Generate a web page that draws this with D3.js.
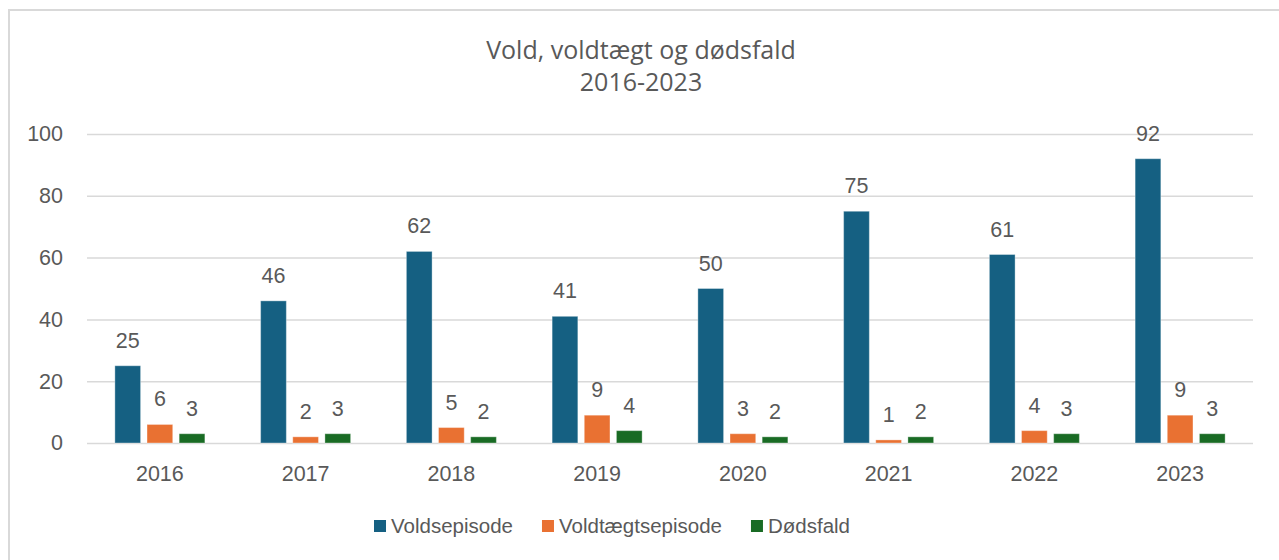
<!DOCTYPE html>
<html>
<head>
<meta charset="utf-8">
<script src="https://cdn.jsdelivr.net/npm/d3@7"></script>
<style>
  html, body { margin: 0; padding: 0; background: #fff; overflow: hidden; }
  #chart { width: 1279px; height: 560px; }
  text { font-family: "Liberation Sans", Arial, sans-serif; fill: #595959; }
</style>
</head>
<body>
<div id="chart"></div>
<script>
const years = ["2016", "2017", "2018", "2019", "2020", "2021", "2022", "2023"];
const seriesNames = ["Voldsepisode", "Voldtægtsepisode", "Dødsfald"];
const voldsepisode = [25, 46, 62, 41, 50, 75, 61, 92];
const voldtaegtsepisode = [6, 2, 5, 9, 3, 1, 4, 9];
const doedsfald = [3, 3, 2, 4, 2, 2, 3, 3];
const yTicks = [0, 20, 40, 60, 80, 100];
const titleLines = ["Vold, voldtægt og dødsfald", "2016-2023"];

const colors = ["#156082", "#E97132", "#196B24"];

document.addEventListener("DOMContentLoaded", function() {
    const width = 1279, height = 560;
    const plot = {left: 87, right: 1253, top: 134, bottom: 443};

    const svg = d3.select("#chart").append("svg")
        .attr("width", width)
        .attr("height", height);

    // chart area border (bottom is cut off in the original)
    svg.append("rect")
        .attr("x", 9).attr("y", 10)
        .attr("width", width + 10).attr("height", height + 10)
        .attr("fill", "none")
        .attr("stroke", "#d9d9d9")
        .attr("stroke-width", 2);

    // title
    svg.append("g").selectAll("text")
        .data(titleLines)
        .join("text")
        .attr("x", 641)
        .attr("y", (d, i) => 59 + i * 32)
        .attr("text-anchor", "middle")
        .style("font-family", "'Open Sans', sans-serif")
        .style("font-size", "25px")
        .text(d => d);

    const data = years.map((y, i) => ({
        year: y,
        values: [voldsepisode[i], voldtaegtsepisode[i], doedsfald[i]]
    }));

    const x0 = d3.scaleBand()
        .domain(years)
        .range([plot.left, plot.right])
        .paddingInner(0.3825)
        .paddingOuter(0.19125);

    const x1 = d3.scaleBand()
        .domain(d3.range(seriesNames.length))
        .range([0, x0.bandwidth()])
        .paddingInner(0.2);

    const y = d3.scaleLinear()
        .domain([0, 100])
        .range([plot.bottom, plot.top]);

    // y axis + gridlines
    const yAxis = svg.append("g")
        .attr("transform", `translate(${plot.left},0)`)
        .call(d3.axisLeft(y)
            .tickValues(yTicks)
            .tickSize(-(plot.right - plot.left))
            .tickPadding(24));
    yAxis.select(".domain").remove();
    yAxis.selectAll("line").attr("stroke", "#d9d9d9").attr("stroke-width", 1.5);
    yAxis.selectAll("text")
        .style("font-size", "21.5px")
        .attr("fill", "#595959");

    // x axis labels
    const xAxis = svg.append("g")
        .attr("transform", `translate(0,${plot.bottom})`)
        .call(d3.axisBottom(x0).tickSize(0).tickPadding(0));
    xAxis.select(".domain").remove();
    xAxis.selectAll("text")
        .attr("y", 38)
        .attr("dy", null)
        .style("font-size", "21.5px")
        .attr("fill", "#595959");

    // bars
    const groups = svg.append("g").selectAll("g")
        .data(data)
        .join("g")
        .attr("transform", d => `translate(${x0(d.year)},0)`);

    groups.selectAll("rect")
        .data(d => d.values.map((v, k) => ({k, v})))
        .join("rect")
        .attr("x", d => x1(d.k))
        .attr("y", d => y(d.v))
        .attr("width", x1.bandwidth())
        .attr("height", d => y(0) - y(d.v))
        .attr("fill", d => colors[d.k])
        .attr("stroke", "#ffffff")
        .attr("stroke-opacity", 0.35)
        .attr("stroke-width", 1);

    // data labels
    groups.selectAll("text")
        .data(d => d.values.map((v, k) => ({k, v})))
        .join("text")
        .attr("x", d => x1(d.k) + x1.bandwidth() / 2)
        .attr("y", d => y(d.v) - 18)
        .attr("text-anchor", "middle")
        .style("font-size", "21.5px")
        .attr("fill", "#404040")
        .text(d => d.v);

    // legend
    const legend = svg.append("g");
    const items = legend.selectAll("g")
        .data(seriesNames)
        .join("g");
    items.append("rect")
        .attr("width", 12).attr("height", 12)
        .attr("y", -6)
        .attr("fill", (d, i) => colors[i]);
    items.append("text")
        .attr("x", 17)
        .attr("dy", "0.35em")
        .style("font-size", "20.5px")
        .text(d => d);

    let offset = 0;
    items.each(function() {
        const w = 17 + d3.select(this).select("text").node().getComputedTextLength();
        d3.select(this).attr("transform", `translate(${offset},0)`);
        offset += w + 29;
    });
    const legendWidth = offset - 29;
    legend.attr("transform", `translate(${612 - legendWidth / 2},526)`);
});
</script>
</body>
</html>
